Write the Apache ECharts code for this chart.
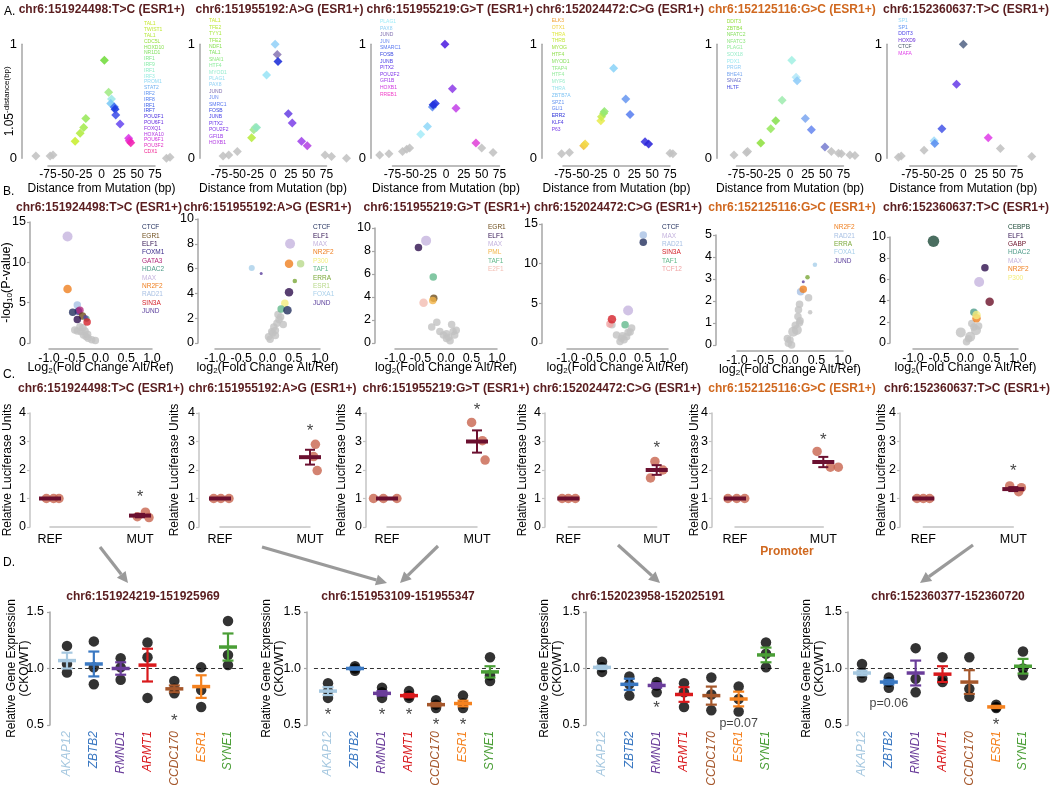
<!DOCTYPE html>
<html>
<head>
<meta charset="utf-8">
<title>ESR1 locus variants</title>
<script src="https://cdn.jsdelivr.net/npm/echarts@6.0.0/dist/echarts.min.js"></script>
<style>
html,body{margin:0;padding:0;background:#fff;}
#chart{width:1050px;height:785px;}
</style>
</head>
<body>
<div id="chart"></div>
<script>
// ======================= DATA =======================
const locusTitles = [
  'chr6:151924498:T>C (ESR1+)', 'chr6:151955192:A>G (ESR1+)', 'chr6:151955219:G>T (ESR1+)',
  'chr6:152024472:C>G (ESR1+)', 'chr6:152125116:G>C (ESR1+)', 'chr6:152360637:T>C (ESR1+)'
];
const promoterLocus = 4;

// ---- A: motif distance from mutation (bp) vs 1.05^-distance ----
const a1Points = [[-92,0.02],[-72,0.02],[-68,0.03],[-37,0.15],[-30,0.22],[-25,0.27],[-22,0.35],[4,0.86],[10,0.58],[14,0.52],[13,0.48],[18,0.45],[19,0.43],[20,0.38],[26,0.30],[38,0.175],[39,0.155],[41,0.137],[91,0.0],[96,0.01]];
const a2Points = [[-70,0.02],[-62,0.03],[-50,0.06],[-30,0.18],[-27,0.25],[-25,0.27],[-23,0.27],[-9,0.73],[3,1.0],[6,0.91],[7,0.85],[21.5,0.39],[27,0.31],[40,0.15],[48,0.11],[73,0.03],[82,0.015],[103,0.0]];
const a3Points = [[-93,0.03],[-80,0.04],[-61,0.06],[-55,0.08],[-51,0.09],[-35.5,0.21],[-26,0.28],[-19,0.45],[-18,0.47],[-15,0.48],[-1.5,1.0],[9,0.61],[14,0.44],[42,0.135],[50,0.09],[66,0.05]];
const a4Points = [[-77,0.04],[-66,0.05],[-46,0.11],[-44,0.125],[-22,0.33],[-21,0.365],[-18,0.395],[-17,0.41],[-4,0.79],[13,0.52],[19,0.385],[40,0.145],[45,0.125],[75,0.045],[79,0.04]];
const a5Points = [[-78.5,0.03],[-61,0.05],[-59.5,0.06],[-41,0.135],[-27,0.26],[-20,0.33],[-11,0.51],[2.5,0.86],[8.5,0.71],[10,0.68],[21.5,0.35],[30,0.25],[49,0.10],[58,0.06],[68,0.045],[72,0.04],[84,0.03],[91,0.025]];
const a6Points = [[-91,0.01],[-87,0.02],[-55,0.07],[-41,0.155],[-40,0.13],[-30,0.26],[-9.5,0.65],[0,1.0],[35,0.18],[52,0.085],[96,0.015]];

const a1Factors = ['TAL1','TWIST1','TAL1','CDC5L','HOXD10','NR1D1','IRF1','IRF9','IRF1','IRF3','PROM1','STAT2','IRF2','IRF8','IRF1','IRF7','POU2F1','POU6F1','FOXQ1','HOXA10','POU6F1','POU3F2','CDX1'];
const a2Factors = ['TAL1','TFE2','TYY1','TFE2','NDF1','TAL1','SNAI1','HTF4','MYOD1','PLAG1','PAX8','JUND','JUN','SMRC1','FOSB','JUNB','PITX2','POU2F2','GFI1B','HOXB1'];
const a3Factors = ['PLAG1','PAX8','JUND','JUN','SMARC1','FOSB','JUNB','PITX2','POU2F2','GFI1B','HOXB1','RREB1'];
const a4Factors = ['ELK3','OTX1','THRA','THRB','MYOG','HTF4','MYOD1','TFAP4','HTF4','MYF6','THRA','ZBTB7A','SPZ1','GLI1','ERR2','KLF4','P63'];
const a5Factors = ['DDIT3','ZBTB4','NFATC2','NFATC3','PLAG1','SOX18','PDX1','PRGR','BHE41','SNAI2','HLTF'];
const a6Factors = ['SP1','SP1','DDIT3','HOXD9','CTCF','MAFA'];

// ---- B: allelic imbalance of ChIP-seq reads: [log2 FC, -log10 P, factor, marker-size level] ----
const b1Sites = [[-0.5,1.6,'',2],[-0.45,1.5,'',2],[-0.38,1.4,'',2],[-0.33,1.0,'',2],[-0.28,0.8,'',2],[-0.24,0.6,'',2],[-0.17,0.4,'',2],[-0.1,0.3,'',2],[-0.25,1.1,'',2],[-0.34,1.9,'',2],[-0.4,2.0,'',2],[-0.3,1.5,'',2],
  [-0.64,13.2,'MAX',3],[-0.64,6.7,'NR2F2',2.5],[-0.45,4.7,'RAD21',2],[-0.43,3.95,'FOXM1',2],[-0.4,4.05,'GATA3',2],[-0.54,3.8,'CTCF',2],[-0.35,3.35,'EGR1',2],[-0.45,2.9,'ELF1',2],[-0.27,3.0,'HDAC2',1.5],[-0.29,3.2,'JUND',1],[-0.26,2.6,'SIN3A',2]];
const b2Sites = [[0.05,0.3,'',2],[0.02,0.5,'',2],[0.08,0.9,'',2],[0.1,0.8,'',2],[0.15,1.0,'',2],[0.12,1.3,'',2],[0.18,1.6,'',2],[0.22,1.9,'',2],[0.25,2.1,'',2],[0.2,2.3,'',2],[0.3,1.5,'',2],[0.15,0.6,'',2],
  [0.43,8.0,'MAX',3],[0.41,6.4,'NR2F2',2.5],[0.63,6.4,'ESR1',2],[0.52,5.0,'ERRA',1],[-0.3,6.05,'FOXA1',1.5],[-0.12,5.6,'JUND',0.5],[0.41,4.1,'ELF1',2.5],[0.33,3.2,'P300',2],[0.26,2.75,'TAF1',2],[0.38,2.65,'CTCF',2.5]];
const b3Sites = [[-0.28,1.4,'',2],[-0.18,1.8,'',2],[-0.12,1.0,'',2],[-0.05,0.7,'',2],[0.01,0.4,'',2],[0.08,0.2,'',2],[0.11,1.6,'',2],[0.14,1.0,'',2],[0.2,1.1,'',2],[0.01,0.8,'',2],[0.05,0.5,'',2],[0.17,0.7,'',2],
  [-0.39,8.9,'MAX',3],[-0.54,8.3,'ELF1',2],[-0.25,5.75,'TAF1',2],[-0.44,3.5,'E2F1',2.5],[-0.24,3.9,'EGR1',2],[-0.26,3.7,'PML',2]];
const b4Sites = [[-0.11,2.3,'',2],[-0.02,1.0,'',2],[0.08,0.6,'',2],[0.18,0.8,'',2],[0.25,1.4,'',2],[0.28,1.9,'',2],[0.13,0.4,'',2],[0.05,0.2,'',2],[0.21,1.35,'',2],[0.1,0.9,'',2],
  [0.51,13.6,'RAD21',2],[0.51,12.7,'CTCF',2],[0.21,4.1,'MAX',3],[-0.15,2.4,'TCF12',2],[-0.11,3.0,'SIN3A',2.5],[0.15,2.3,'TAF1',2]];
const b5Sites = [[0.35,2.15,'',2],[0.38,1.49,'',1],[0.18,1.85,'',2],[0.16,1.6,'',2],[0.15,1.29,'',2],[0.18,1.01,'',2],[0.13,0.68,'',3],[0.06,0.6,'',3],[0.0,0.23,'',2],[-0.03,0.08,'',2],[0.03,0.0,'',2],[0.19,1.1,'',2],[0.1,0.9,'',2],[-0.05,0.3,'',2],
  [0.47,3.65,'FOXA1',1],[0.33,3.08,'ERRA',1],[0.25,2.87,'JUND',0.5],[0.2,2.42,'RAD21',2],[0.25,2.53,'NR2F2',2]];
const b6Sites = [[-0.09,1.0,'',3],[0.02,0.12,'',2],[0.09,0.6,'',3],[0.16,1.5,'',2],[0.2,1.2,'',3],[0.12,1.85,'',2],[0.06,0.4,'',2],[0.25,1.6,'',2],
  [-0.61,9.6,'CEBPB',3.5],[0.37,7.1,'ELF1',2],[0.26,5.75,'MAX',3],[0.46,3.9,'GABP',2.5],[0.16,2.9,'HDAC2',2],[0.21,2.33,'NR2F2',2.5],[0.21,2.64,'P300',2.5]];
const b1Legend = ['CTCF','EGR1','ELF1','FOXM1','GATA3','HDAC2','MAX','NR2F2','RAD21','SIN3A','JUND'];
const b2Legend = ['CTCF','ELF1','MAX','NR2F2','P300','TAF1','ERRA','ESR1','FOXA1','JUND'];
const b3Legend = ['EGR1','ELF1','MAX','PML','TAF1','E2F1'];
const b4Legend = ['CTCF','MAX','RAD21','SIN3A','TAF1','TCF12'];
const b5Legend = ['NR2F2','RAD21','ERRA','FOXA1','JUND'];
const b6Legend = ['CEBPB','ELF1','GABP','HDAC2','MAX','NR2F2','P300'];
const bYMax = [15, 10, 10, 15, 5, 10];
const bYStep = [5, 2, 2, 5, 1, 2];
const bXTicks = [-1, 1, 0.5];

// ---- C: luciferase reporter, [jittered group position, value] ----
const lucCategories = ['REF', 'MUT'];
const c1Ref = [[0.96,1],[1.04,1],[1.10,1]], c1Mut = [[1.97,0.36],[2.06,0.52],[2.10,0.33]];
const c2Ref = [[0.93,1],[1.01,1],[1.10,1]], c2Mut = [[2.06,2.9],[2.04,2.47],[2.08,1.98]];
const c3Ref = [[0.85,1],[0.96,1],[1.11,1]], c3Mut = [[1.94,3.67],[2.06,3.03],[2.09,2.35]];
const c4Ref = [[0.93,1],[1.00,1],[1.08,1]], c4Mut = [[1.98,2.3],[1.93,1.72],[2.07,2.0]];
const c5Ref = [[0.92,1],[1.02,1],[1.11,1]], c5Mut = [[1.93,2.65],[2.08,2.1],[2.17,2.1]];
const c6Ref = [[0.93,1],[1.00,1],[1.07,1]], c6Mut = [[1.96,1.44],[2.06,1.24],[2.09,1.38]];
const cMutMean = [0.40, 2.45, 3.00, 2.00, 2.28, 1.33];
const cMutSem  = [0.06, 0.26, 0.39, 0.17, 0.18, 0.07];
const cStarY   = [1.18, 3.50, 4.22, 2.91, 3.19, 2.09];

// ---- D: relative gene expression CKO/WT ----
const geneNames = ['AKAP12','ZBTB2','RMND1','ARMT1','CCDC170','ESR1','SYNE1'];
const regionTitles = ['chr6:151924219-151925969','chr6:151953109-151955347','chr6:152023958-152025191','chr6:152360377-152360720'];
const d1Reps = [[1.20,1.04,0.965],[1.24,1.01,0.86],[1.09,1.01,0.90],[1.23,1.10,0.74],[0.89,0.82,0.78],[1.01,0.81,0.66],[1.42,1.12,1.03]];
const d1Mean = [1.07,1.04,1.00,1.03,0.82,0.84,1.19];
const d1Sem  = [0.07,0.11,0.055,0.145,0.03,0.10,0.12];
const d2Reps = [[0.87,0.80,0.74],[1.02,1.00,0.98],[0.83,0.79,0.74],[0.80,0.76,0.74],[0.72,0.68,0.65],[0.76,0.69,0.65],[1.10,0.94,0.89]];
const d2Mean = [0.80,1.00,0.78,0.76,0.68,0.69,0.97];
const d2Sem  = [0.035,0.01,0.02,0.015,0.015,0.025,0.05];
const d3Reps = [[1.06,1.01,0.97],[0.93,0.86,0.76],[0.88,0.85,0.79],[0.87,0.79,0.66],[0.92,0.77,0.63],[0.84,0.73,0.62],[1.23,1.13,1.01]];
const d3Mean = [1.01,0.86,0.85,0.77,0.76,0.73,1.12];
const d3Sem  = [0.015,0.05,0.02,0.065,0.08,0.065,0.065];
const d4Reps = [[1.04,0.96,0.92],[0.92,0.88,0.83],[1.18,0.91,0.79],[1.10,0.91,0.88],[1.10,0.82,0.75],[0.68,0.66,0.65],[1.15,1.00,0.94]];
const d4Mean = [0.96,0.88,0.96,0.95,0.88,0.66,1.02];
const d4Sem  = [0.02,0.02,0.11,0.07,0.105,0.01,0.065];
// significance marks: [gene index, y, text]
const d1Marks = [[4,0.57,'*']];
const d2Marks = [[0,0.62,'*'],[2,0.62,'*'],[3,0.62,'*'],[4,0.53,'*'],[5,0.53,'*']];
const d3Marks = [[2,0.68,'*'],[5,0.51,'p=0.07']];
const d4Marks = [[5,0.53,'*'],[1,0.69,'p=0.06']];
const dBaseline = 1.0;
const dBaselineSpan = [[-0.63,6.75],[-0.78,6.48],[-0.59,6.62],[-0.45,6.55]];

// ======================= STYLE / LAYOUT =======================
const FONT = '"Liberation Sans", Arial, Helvetica, sans-serif';
const AX = '#a6a6a6';
const MAROON = '#5a1d1f';
const ORANGE = '#d0681f';
const GRAY_PT = '#c2c2c2';

const a1Colors = [null,null,null,'#c8ee30','#b2ec40','#a4ea4e','#98e85a','#72dc3c','#a2ea84','#9ee8e8','#7ccaf5','#3a6cf0','#1a3ae0','#4050e8','#6a4af0','#d83ae8','#e830d0','#f020b0',null,null];
const a2Colors = [null,null,null,'#b8ec40','#9ee88a','#a8eab0','#90e6c0','#9ae4f6','#94d2f8','#8a78b4','#1c2ed8','#6a44e4','#8044e8','#a044ea','#b444e2',null,null,null];
const a3Colors = [null,null,null,null,null,'#a8ecf8','#92d8f8','#5a8af0','#1a2ad8','#2434e0','#5020e0','#9040e8','#c444e8','#e044d8',null,null];
const a4Colors = [null,null,'#f0c040','#f2d848','#e8ec50','#c8ec50','#a4e860','#94e874','#8cd4f8','#6a98f0','#5a80f0','#3a34e0','#2a24d8',null,null];
const a5Colors = [null,null,null,'#90e040','#98e860','#88e050','#a0ecb0','#a4f0e4','#b4e8f8','#90ccf8','#80a8f0','#6a8af0','#7a80d0',null,null,null,null,null];
const a6Colors = [null,null,null,'#a0dcf8','#5a90f0','#4a5ae8','#6a40e8','#556688','#e040e8',null,null];
const a1FactorColors = ['#c8e830','#c0e838','#b8e840','#98e040','#88e050','#80e060','#80e888','#88eca8','#90ecc8','#98ece0','#90d8f4','#70b0f0','#5a90f0','#4a78f0','#3a60e8','#2a40e0','#4a30e0','#6a30e0','#8a30e0','#b030e0','#d030e0','#e030c0','#f02090'];
const a2FactorColors = ['#c8e830','#b8e838','#a8e840','#98e448','#88e050','#80e060','#88e878','#90eca0','#98ecd0','#98e0f0','#90d0f4','#8070b0','#6a88f0','#5a78f0','#3a48e0','#4a40e8','#6a38e8','#8038e8','#9838e8','#b038e0'];
const a3FactorColors = ['#a0ecf8','#90d0f4','#8070b0','#6a88f0','#5a78f0','#3a48e0','#4a40e8','#6a38e8','#8038e8','#a038e8','#d038e0','#f040c8'];
const a4FactorColors = ['#f0a030','#f0d040','#e0e840','#c8e840','#a0e040','#90e050','#88e060','#90e880','#98eca0','#98ecc8','#98e4ec','#80c4f4','#6a98f0','#5a80f0','#2a30d8','#4a38e0','#7a40e8'];
const a5FactorColors = ['#98e040','#90e048','#88e060','#90e880','#98eca0','#98ecc8','#a0ecf0','#90ccf4','#7aa8f0','#6a70c8','#4a50e0'];
const a6FactorColors = ['#90d8f8','#5a90f0','#4a40e8','#6a30d8','#445566','#e040e8'];

const tfPalette = {CTCF:'#23305e', EGR1:'#6e4e1c', ELF1:'#2e0f4e', FOXM1:'#3a2a8a', GATA3:'#b0287a', HDAC2:'#4f9c8a',
  MAX:'#c5b4de', NR2F2:'#ef7f1f', RAD21:'#a8c0e4', SIN3A:'#d42029', JUND:'#5b3f9c', P300:'#f4ee7e', TAF1:'#63b98c',
  ERRA:'#7aa838', ESR1:'#b9d98c', FOXA1:'#a9d0ea', PML:'#f2b447', E2F1:'#f3bdb2', TCF12:'#f1a4a4', CEBPB:'#1d4a38', GABP:'#6a1028'};
const bSizeByLevel = {0.5:3, 1:4.5, 1.5:6, 2:7.5, 2.5:8.5, 3:10, 3.5:11.5};
const geneColors = ['#a6c8e0','#3a78c2','#6a3d9a','#d9191c','#a5572b','#f5821f','#4a9e36'];

// layout (pixels)
const aCenters = [101.5, 273, 446, 616.5, 790, 963.3];
const aYAxisX = [22, 200, 371, 542, 717, 887];
const aListX = [144, 209, 380, 551.7, 726.7, 898.3];
const aListY0 = [24, 21, 21.7, 20.7, 21.7, 20.7];
const aListStep = [5.8, 6.4, 6.6, 6.8, 6.6, 6.5];
const aTitleX = [101.7, 279.5, 450, 620, 792, 966];
const bXRange = [[49,152],[215,320],[395,497],[567,668],[737,843],[913,1018]];
const bYTop = [222, 219, 228, 224, 235, 237];
const bYZero = [343, 343, 343, 343, 345, 343];
const bYAxisX = [30, 198, 375, 542, 716, 890];
const bLegendX = [142, 313, 488, 662, 834, 1008];
const bTitleX = [99, 267.5, 447, 618, 792, 966];
const cXRange = [[50,140],[220,310],[387,477],[568.3,656.7],[735,823.3],[923.3,1013.3]];
const cYAxisX = [30, 199, 366, 545, 712, 900];
const cNameGap = [16, 18, 18, 16, 11, 12];
const cTitleX = [101, 272.5, 446, 617, 792, 967];
const dCatRange = [[67,228],[328,490],[602,766],[862,1023]];
const dYAxisX = [50, 307, 586, 848];
const dNameGap = [19, 21, 22, 22];
const dTitleX = [143, 398, 648, 948];

// ======================= BUILD =======================
const grids = [], xAxes = [], yAxes = [], series = [], graphics = [];

function txt(x, y, text, o) {
  o = o || {};
  const align = o.align || 'left';
  return {type:'text', x:x, y:y, silent:true, z:10, style:{
    text:text, fill:o.fill || '#000', fontSize:o.fontSize || 12, fontFamily:FONT,
    fontWeight:o.fontWeight || 'normal', fontStyle:o.fontStyle || 'normal',
    align:align, verticalAlign:'middle', textAlign:align, textVerticalAlign:'middle'}};
}
function arrow(x1, y1, x2, y2) {
  const a = Math.atan2(y2 - y1, x2 - x1), L = 11, W = 5.5;
  const bx = x2 - L * Math.cos(a), by = y2 - L * Math.sin(a);
  return [
    {type:'line', silent:true, shape:{x1:x1, y1:y1, x2:bx, y2:by}, style:{stroke:'#9a9a9a', lineWidth:3.2}},
    {type:'polygon', silent:true, shape:{points:[[x2,y2],[bx - W*Math.sin(a), by + W*Math.cos(a)],[bx + W*Math.sin(a), by - W*Math.cos(a)]]}, style:{fill:'#9a9a9a'}}
  ];
}
function axLine(w) { return {show:true, onZero:false, lineStyle:{color:AX, width:w || 1.5}}; }
const yTick = {show:true, length:3, lineStyle:{color:AX, width:1.2}};
function meanErrRenderer(halfBar, halfCap, barW, errW) {
  return function (params, api) {
    const x = api.value(0), m = api.value(1), s = api.value(2);
    const c = api.coord([x, m]), hi = api.coord([x, m + s]), lo = api.coord([x, m - s]);
    const color = api.visual('color');
    const st = {stroke:color, lineWidth:errW};
    const kids = [];
    if (s > 0) {
      kids.push({type:'line', shape:{x1:c[0], y1:hi[1], x2:c[0], y2:lo[1]}, style:st});
      kids.push({type:'line', shape:{x1:c[0]-halfCap, y1:hi[1], x2:c[0]+halfCap, y2:hi[1]}, style:st});
      kids.push({type:'line', shape:{x1:c[0]-halfCap, y1:lo[1], x2:c[0]+halfCap, y2:lo[1]}, style:st});
    }
    kids.push({type:'line', shape:{x1:c[0]-halfBar, y1:c[1], x2:c[0]+halfBar, y2:c[1]}, style:{stroke:color, lineWidth:barW}});
    return {type:'group', children:kids};
  };
}
function markSeries(xi, yi, marks) {
  return {type:'scatter', xAxisIndex:xi, yAxisIndex:yi, clip:false, silent:true, symbolSize:1, z:6,
    itemStyle:{color:'rgba(0,0,0,0)'},
    data: marks.map(m => ({value:[m[0], m[1]], label:{show:true, position:'inside', formatter:m[2],
      fontSize: m[2] === '*' ? 17 : 12.5, color:'#111', fontFamily:FONT, offset: m[2] === '*' ? [0, 4] : [0, 0]}}))};
}

// ---------- Row A ----------
const aSets = [
  [a1Points, a1Colors, a1Factors, a1FactorColors], [a2Points, a2Colors, a2Factors, a2FactorColors],
  [a3Points, a3Colors, a3Factors, a3FactorColors], [a4Points, a4Colors, a4Factors, a4FactorColors],
  [a5Points, a5Colors, a5Factors, a5FactorColors], [a6Points, a6Colors, a6Factors, a6FactorColors]];
aSets.forEach((s, i) => {
  const left = aCenters[i] - 53.5;
  const gi = grids.push({left:left, top:44.3, width:107, height:114, outerBoundsMode:'none'}) - 1;
  const xi = xAxes.push({gridIndex:gi, type:'value', min:-75, max:75, interval:25, offset:7,
    axisLine:axLine(1.5), axisTick:{show:false}, splitLine:{show:false},
    axisLabel:{fontSize:12, color:'#000', margin:3, fontFamily:FONT},
    name:'Distance from Mutation (bp)', nameLocation:'middle', nameGap:17, nameMoveOverlap:false,
    nameTextStyle:{fontSize:12, color:'#000', fontFamily:FONT}}) - 1;
  const yA = {gridIndex:gi, type:'value', min:0, max:1, interval:1, offset:left - aYAxisX[i],
    axisLine:axLine(1.5), axisTick:{show:false}, splitLine:{show:false}, nameMoveOverlap:false,
    axisLabel:{fontSize:13, color:'#000', margin:5, fontFamily:FONT}};
  if (i === 0) {
    yA.name = '{b|1.05}{s|-distance(bp)}';
    yA.nameLocation = 'middle'; yA.nameGap = 5;
    yA.nameTextStyle = {fontFamily:FONT, rich:{b:{fontSize:12, color:'#000', lineHeight:14, fontFamily:FONT},
      s:{fontSize:8, color:'#000', lineHeight:8, verticalAlign:'top', fontFamily:FONT}}};
  }
  const yi = yAxes.push(yA) - 1;
  series.push({type:'scatter', xAxisIndex:xi, yAxisIndex:yi, clip:false, symbol:'diamond', symbolSize:9, z:3,
    data: s[0].map((p, k) => ({value:p, itemStyle:{color:s[1][k] || GRAY_PT, opacity:0.88}}))});
  s[2].forEach((t, k) => graphics.push(txt(aListX[i], aListY0[i] + k * aListStep[i], t, {fill:s[3][k], fontSize:5})));
  graphics.push(txt(aTitleX[i], 10, locusTitles[i], {fill: i === promoterLocus ? ORANGE : MAROON, fontWeight:'bold', align:'center'}));
});

// ---------- Row B ----------
const bSets = [[b1Sites,b1Legend],[b2Sites,b2Legend],[b3Sites,b3Legend],[b4Sites,b4Legend],[b5Sites,b5Legend],[b6Sites,b6Legend]];
bSets.forEach((s, i) => {
  const x0 = bXRange[i][0], x1 = bXRange[i][1];
  const gi = grids.push({left:x0, top:bYTop[i], width:x1 - x0, height:bYZero[i] - bYTop[i], outerBoundsMode:'none'}) - 1;
  const logWord = i === 0 ? 'Log' : 'log';
  const xi = xAxes.push({gridIndex:gi, type:'value', min:bXTicks[0], max:bXTicks[1], interval:bXTicks[2], offset:6,
    axisLine:axLine(1.5), axisTick:{show:false}, splitLine:{show:false},
    axisLabel:{fontSize:12.5, color:'#000', margin:3, fontFamily:FONT, formatter:v => v.toFixed(1)},
    name:'{a|' + logWord + '}{s|2}{a|(Fold Change Alt/Ref)}', nameLocation:'middle', nameGap:12, nameMoveOverlap:false,
    nameTextStyle:{fontFamily:FONT, rich:{a:{fontSize:12.5, color:'#000', lineHeight:14, fontFamily:FONT},
      s:{fontSize:8, color:'#000', lineHeight:8, verticalAlign:'bottom', fontFamily:FONT}}}}) - 1;
  const yB = {gridIndex:gi, type:'value', min:0, max:bYMax[i], interval:bYStep[i], offset:x0 - bYAxisX[i],
    axisLine:axLine(1.5), axisTick:yTick, splitLine:{show:false}, nameMoveOverlap:false,
    axisLabel:{fontSize:12.5, color:'#000', margin:4, fontFamily:FONT}};
  if (i === 0) {
    yB.name = '{a|-log}{s|10}{a|(P-value)}';
    yB.nameLocation = 'middle'; yB.nameGap = 16;
    yB.nameTextStyle = {fontFamily:FONT, rich:{a:{fontSize:12.5, color:'#000', lineHeight:14, fontFamily:FONT},
      s:{fontSize:8, color:'#000', lineHeight:8, verticalAlign:'bottom', fontFamily:FONT}}};
  }
  const yi = yAxes.push(yB) - 1;
  series.push({type:'scatter', xAxisIndex:xi, yAxisIndex:yi, clip:false, z:3,
    data: s[0].map(p => ({value:[p[0], p[1]], symbolSize:bSizeByLevel[p[3]],
      itemStyle:{color: p[2] ? tfPalette[p[2]] : GRAY_PT}}))});
  s[1].forEach((t, k) => graphics.push(txt(bLegendX[i], 227.5 + k * 8.4, t, {fill:tfPalette[t], fontSize:6.5})));
  graphics.push(txt(bTitleX[i], 208, locusTitles[i], {fill: i === promoterLocus ? ORANGE : MAROON, fontWeight:'bold', align:'center'}));
});

// ---------- Row C ----------
const cSets = [[c1Ref,c1Mut],[c2Ref,c2Mut],[c3Ref,c3Mut],[c4Ref,c4Mut],[c5Ref,c5Mut],[c6Ref,c6Mut]];
cSets.forEach((s, i) => {
  const x0 = cXRange[i][0], x1 = cXRange[i][1];
  const gi = grids.push({left:x0, top:413, width:x1 - x0, height:114, outerBoundsMode:'none'}) - 1;
  const xi = xAxes.push({gridIndex:gi, type:'value', min:1, max:2, interval:1, offset:0,
    axisLine:{show:true, onZero:false, lineStyle:{color:'#c4c4c4', width:1.5}}, axisTick:{show:false}, splitLine:{show:false},
    axisLabel:{fontSize:12.5, color:'#000', margin:6, fontFamily:FONT, formatter:v => lucCategories[Math.round(v) - 1]}}) - 1;
  const yi = yAxes.push({gridIndex:gi, type:'value', min:0, max:4, interval:1, offset:x0 - cYAxisX[i],
    axisLine:{show:true, onZero:false, lineStyle:{color:'#c4c4c4', width:1.5}},
    axisTick:{show:true, length:3, lineStyle:{color:'#c4c4c4', width:1.2}}, splitLine:{show:false},
    axisLabel:{fontSize:12.5, color:'#000', margin:4, fontFamily:FONT},
    name:'Relative Luciferase Units', nameLocation:'middle', nameGap:cNameGap[i], nameMoveOverlap:false,
    nameTextStyle:{fontSize:12, color:'#000', fontFamily:FONT}}) - 1;
  series.push({type:'scatter', xAxisIndex:xi, yAxisIndex:yi, clip:false, symbolSize:9.5, z:3,
    itemStyle:{color:'#c8644e'}, data: s[0].concat(s[1])});
  series.push({type:'custom', xAxisIndex:xi, yAxisIndex:yi, clip:false, z:4, itemStyle:{color:'#6b1030'},
    renderItem: meanErrRenderer(11, 5, 4, 2),
    data: [[1, 1, 0], [2, cMutMean[i], cMutSem[i]]]});
  series.push(markSeries(xi, yi, [[2, cStarY[i], '*']]));
  graphics.push(txt(cTitleX[i], 389, locusTitles[i], {fill: i === promoterLocus ? ORANGE : MAROON, fontWeight:'bold', align:'center'}));
});
graphics.push(txt(787, 552, 'Promoter', {fill:ORANGE, fontWeight:'bold', align:'center'}));

// ---------- Row D ----------
const dSets = [[d1Reps,d1Mean,d1Sem,d1Marks],[d2Reps,d2Mean,d2Sem,d2Marks],[d3Reps,d3Mean,d3Sem,d3Marks],[d4Reps,d4Mean,d4Sem,d4Marks]];
dSets.forEach((s, i) => {
  const sp = (dCatRange[i][1] - dCatRange[i][0]) / (geneNames.length - 1);
  const left = dCatRange[i][0] - sp / 2;
  const gi = grids.push({left:left, top:612, width:sp * geneNames.length, height:113, outerBoundsMode:'none'}) - 1;
  const xi = xAxes.push({gridIndex:gi, type:'category', data:geneNames, boundaryGap:true,
    axisLine:{show:false}, axisTick:{show:false}, splitLine:{show:false},
    axisLabel:{interval:0, rotate:90, margin:6, fontSize:12, fontStyle:'italic', fontFamily:FONT,
      color:(v, idx) => geneColors[idx]}}) - 1;
  const xv = xAxes.push({gridIndex:gi, type:'value', min:-0.5, max:geneNames.length - 0.5, show:false}) - 1;
  const yi = yAxes.push({gridIndex:gi, type:'value', min:0.5, max:1.5, interval:0.5, offset:left - dYAxisX[i],
    axisLine:axLine(1.5), axisTick:yTick, splitLine:{show:false},
    axisLabel:{fontSize:12.5, color:'#000', margin:6, fontFamily:FONT, formatter:v => v.toFixed(1)},
    name:'Relative Gene Expression\n(CKO/WT)', nameLocation:'middle', nameGap:dNameGap[i], nameMoveOverlap:false,
    nameTextStyle:{fontSize:12, color:'#000', lineHeight:13, fontFamily:FONT}}) - 1;
  series.push({type:'line', xAxisIndex:xv, yAxisIndex:yi, clip:false, silent:true, symbol:'none', z:1,
    lineStyle:{color:'#333', width:1.2, type:[4, 3]},
    data:[[dBaselineSpan[i][0], dBaseline], [dBaselineSpan[i][1], dBaseline]]});
  const pts = [];
  s[0].forEach((reps, g) => reps.forEach(v => pts.push([g, v])));
  series.push({type:'scatter', xAxisIndex:xi, yAxisIndex:yi, clip:false, symbolSize:10.5, z:2,
    itemStyle:{color:'#000'}, data:pts});
  series.push({type:'custom', xAxisIndex:xi, yAxisIndex:yi, clip:false, z:4,
    renderItem: meanErrRenderer(9, 5.5, 3.5, 2.2),
    data: s[1].map((m, g) => ({value:[g, m, s[2][g]], itemStyle:{color:geneColors[g]}}))});
  series.push(markSeries(xi, yi, s[3]));
  graphics.push(txt(dTitleX[i], 597, regionTitles[i], {fill:MAROON, fontWeight:'bold', align:'center'}));
});

// ---------- panel letters & arrows ----------
graphics.push(txt(4, 12, 'A.', {fontSize:12}));
graphics.push(txt(3, 192, 'B.', {fontSize:12}));
graphics.push(txt(3, 375, 'C.', {fontSize:12}));
graphics.push(txt(3, 563, 'D.', {fontSize:12}));
[[100,547,128,583],[262,547,387,583],[438,546,400,583],[618,545,660,583],[973,545,920,583]]
  .forEach(a => arrow(a[0], a[1], a[2], a[3]).forEach(e => graphics.push(e)));

const chart = echarts.init(document.getElementById('chart'), null, {renderer:'canvas'});
chart.setOption({
  animation:false,
  backgroundColor:'#ffffff',
  textStyle:{fontFamily:FONT},
  grid:grids, xAxis:xAxes, yAxis:yAxes, series:series,
  graphic:{elements:graphics}
});
</script>
</body>
</html>
